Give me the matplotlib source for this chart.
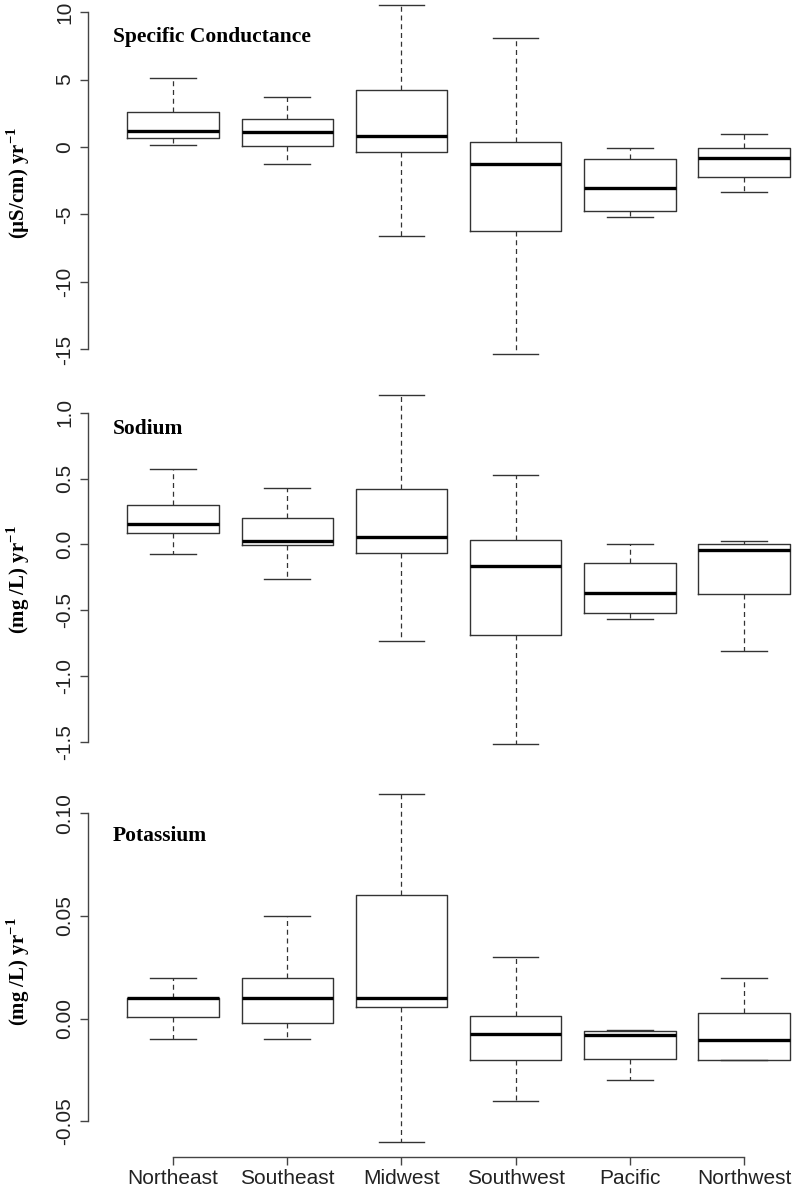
import matplotlib
matplotlib.use("Agg")
import matplotlib.pyplot as plt

plt.rcParams['axes.unicode_minus'] = False
plt.rcParams['mathtext.fontset'] = 'custom'
plt.rcParams['mathtext.rm'] = 'Liberation Serif:bold'
plt.rcParams['mathtext.bf'] = 'Liberation Serif:bold'

regions = ['Northeast', 'Southeast', 'Midwest', 'Southwest', 'Pacific', 'Northwest']

# specific conductance, (uS/cm)/yr
sc_lo = [0.15, -1.26, -6.6, -15.3, -5.2, -3.35]
sc_q1 = [0.64, 0.07, -0.35, -6.25, -4.76, -2.22]
sc_med = [1.21, 1.13, 0.81, -1.28, -3.04, -0.79]
sc_q3 = [2.57, 2.05, 4.2, 0.39, -0.87, -0.1]
sc_hi = [5.13, 3.68, 10.5, 8.1, -0.05, 0.96]

# sodium, (mg/L)/yr
na_lo = [-0.074, -0.26, -0.737, -1.515, -0.57, -0.81]
na_q1 = [0.083, -0.005, -0.064, -0.69, -0.52, -0.375]
na_med = [0.154, 0.028, 0.058, -0.165, -0.368, -0.046]
na_q3 = [0.30, 0.20, 0.42, 0.03, -0.14, 0.0]
na_hi = [0.572, 0.428, 1.137, 0.529, 0.0, 0.025]

# potassium, (mg/L)/yr
k_lo = [-0.01, -0.01, -0.06, -0.04, -0.03, -0.02]
k_q1 = [0.0007, -0.0023, 0.0055, -0.0201, -0.0196, -0.02]
k_med = [0.01, 0.01, 0.01, -0.0074, -0.0078, -0.0104]
k_q3 = [0.01, 0.02, 0.06, 0.0015, -0.0058, 0.0028]
k_hi = [0.02, 0.05, 0.1095, 0.03, -0.0053, 0.02]

sc_ticks = [10, 5, 0, -5, -10, -15]
sc_ticklabels = ['10', '5', '0', '-5', '-10', '-15']
na_ticks = [1.0, 0.5, 0.0, -0.5, -1.0, -1.5]
na_ticklabels = ['1.0', '0.5', '0.0', '-0.5', '-1.0', '-1.5']
k_ticks = [0.10, 0.05, 0.0, -0.05]
k_ticklabels = ['0.10', '0.05', '0.00', '-0.05']

W, H = 796, 1186
fig = plt.figure(figsize=(W / 100, H / 100), dpi=100)

axcol = '#444444'
left = 88 / W
width = 1 - left

panels = [
    # (lo, q1, med, q3, hi, ticks, labels, ylim, top px, bottom px, title, ylabel, label y px)
    (sc_lo, sc_q1, sc_med, sc_q3, sc_hi, sc_ticks, sc_ticklabels, (-16.52, 10.89), 0, 370,
     'Specific Conductance', '(µS/cm) yr$^{-1}$', 183, 8.15),
    (na_lo, na_q1, na_med, na_q3, na_hi, na_ticks, na_ticklabels, (-1.639, 1.2105), 385, 760,
     'Sodium', '(mg /L) yr$^{-1}$', 580, 0.876),
    (k_lo, k_q1, k_med, k_q3, k_hi, k_ticks, k_ticklabels, (-0.0672, 0.1162), 780, 1156.7,
     'Potassium', '(mg /L) yr$^{-1}$', 972, 0.089),
]

for i, (lo, q1, med, q3, hi, ticks, tlabels, ylim, ptop, pbot, title, ylab, laby, ty) in enumerate(panels):
    ax = fig.add_axes([left, 1 - pbot / H, width, (pbot - ptop) / H])
    stats = []
    for j in range(len(regions)):
        stats.append({'whislo': lo[j], 'q1': q1[j], 'med': med[j], 'q3': q3[j],
                      'whishi': hi[j], 'fliers': [], 'label': regions[j]})
    ax.bxp(stats, positions=range(1, 7), widths=0.8, showfliers=False,
           boxprops=dict(color='#333333', linewidth=1.0),
           medianprops=dict(color='black', linewidth=2.4, solid_capstyle='butt'),
           whiskerprops=dict(color='#333333', linewidth=0.9, linestyle=(0, (4, 3))),
           capprops=dict(color='#333333', linewidth=1.0),
           capwidths=0.4)
    ax.set_xlim(0.256, 6.455)
    ax.set_ylim(*ylim)
    for s in ['top', 'right']:
        ax.spines[s].set_visible(False)
    ax.spines['left'].set_bounds(min(ticks), max(ticks))
    ax.spines['left'].set_color(axcol)
    ax.spines['left'].set_linewidth(1.0)
    ax.set_yticks(ticks)
    ax.set_yticklabels(tlabels, fontsize=15, family='Liberation Sans', color='#222222')
    ax.tick_params(axis='y', labelrotation=90, length=6, width=1.0, color=axcol, pad=4)
    for lab in ax.get_yticklabels():
        lab.set_va('center')
    if i < 2:
        ax.spines['bottom'].set_visible(False)
        ax.set_xticks([])
    else:
        ax.spines['bottom'].set_bounds(1, 6)
        ax.spines['bottom'].set_color(axcol)
        ax.spines['bottom'].set_linewidth(1.0)
        ax.set_xticks(range(1, 7))
        ax.set_xticklabels(regions, fontsize=15, family='Liberation Sans', color='#222222')
        ax.tick_params(axis='x', length=5.5, width=1.0, color=axcol, pad=3)
    ax.set_facecolor('none')
    ax.text(0.475, ty, title, fontsize=15.5, family='Liberation Serif', fontweight='bold',
            ha='left', va='center')
    fig.text(18 / W, 1 - laby / H, ylab, rotation=90, fontsize=15, family='Liberation Serif',
             fontweight='bold', ha='center', va='center')

fig.savefig('out.png', dpi=100)
